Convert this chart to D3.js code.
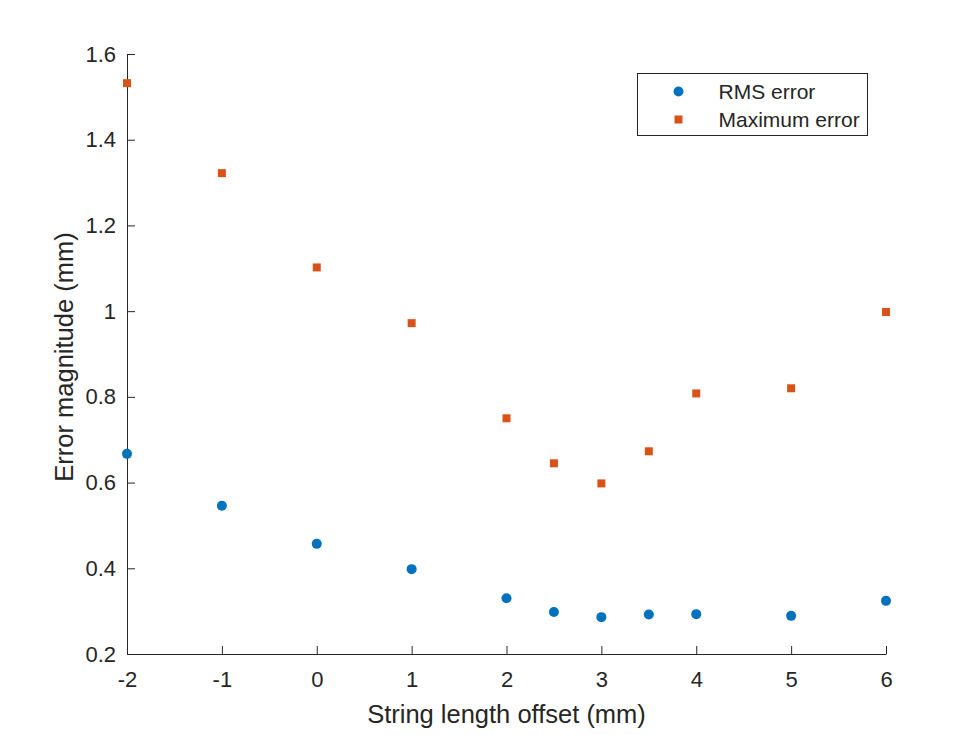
<!DOCTYPE html>
<html>
<head>
<meta charset="utf-8">
<script src="https://cdn.jsdelivr.net/npm/d3@7"></script>
<style>
  body { margin: 0; background: #fff; }
  text { font-family: "Liberation Sans", Arial, sans-serif; fill: #262626; }
</style>
</head>
<body>
<script>
var offsets = [-2, -1, 0, 1, 2, 2.5, 3, 3.5, 4, 5, 6];
var rmsError = [0.667, 0.546, 0.457, 0.398, 0.330, 0.298, 0.286, 0.292, 0.293, 0.289, 0.324];
var maxError = [1.532, 1.322, 1.102, 0.972, 0.750, 0.645, 0.598, 0.673, 0.808, 0.820, 0.998];
var xTicks = [-2, -1, 0, 1, 2, 3, 4, 5, 6];
var yTicks = [0.2, 0.4, 0.6, 0.8, 1, 1.2, 1.4, 1.6];

var width = 980,
    height = 735;

var margin = {left: 127, right: 94, top: 54, bottom: 81};

var svg = d3.select("body").append("svg")
    .attr("width", width)
    .attr("height", height);

var x = d3.scaleLinear()
    .domain([-2, 6])
    .range([margin.left, width - margin.right]);

var y = d3.scaleLinear()
    .domain([0.2, 1.6])
    .range([height - margin.bottom, margin.top]);

// axes, ticks pointing inward like matlab
svg.append("g")
    .attr("transform", "translate(0," + y(0.2) + ")")
    .call(d3.axisBottom(x).tickValues(xTicks).tickSizeInner(-8).tickSizeOuter(0)
      .tickPadding(17).tickFormat(function(d) { return String(d); }));

svg.append("g")
    .attr("transform", "translate(" + x(-2) + ",0)")
    .call(d3.axisLeft(y).tickValues(yTicks).tickSizeInner(-8).tickSizeOuter(0)
      .tickPadding(11).tickFormat(function(d) { return d === 1 ? "1" : d3.format(".1f")(d); }));

svg.selectAll(".domain, .tick line").attr("stroke", "#262626");
svg.selectAll(".tick text")
    .attr("font-size", 22)
    .attr("font-family", "Liberation Sans, Arial, sans-serif")
    .attr("fill", "#262626");

// axis titles
svg.append("text")
    .attr("x", (x(-2) + x(6)) / 2)
    .attr("y", 723)
    .attr("text-anchor", "middle")
    .attr("font-size", 25.5)
    .text("String length offset (mm)");

svg.append("text")
    .attr("transform", "translate(73,357) rotate(-90)")
    .attr("text-anchor", "middle")
    .attr("font-size", 25.5)
    .text("Error magnitude (mm)");

// RMS error
svg.selectAll("circle.rms")
    .data(offsets)
  .enter().append("circle")
    .attr("class", "rms")
    .attr("cx", function(d) { return x(d); })
    .attr("cy", function(d, i) { return y(rmsError[i]); })
    .attr("r", 5)
    .attr("fill", "#0072BD");

// Maximum error
svg.selectAll("rect.max")
    .data(offsets)
  .enter().append("rect")
    .attr("class", "max")
    .attr("x", function(d) { return x(d) - 4; })
    .attr("y", function(d, i) { return y(maxError[i]) - 4; })
    .attr("width", 8)
    .attr("height", 8)
    .attr("fill", "#D95319");

// legend
var legend = svg.append("g").attr("transform", "translate(637.5,73.5)");
legend.append("rect")
    .attr("width", 230)
    .attr("height", 62)
    .attr("fill", "#fff")
    .attr("stroke", "#262626");
legend.append("circle")
    .attr("cx", 41).attr("cy", 18).attr("r", 5)
    .attr("fill", "#0072BD");
legend.append("rect")
    .attr("x", 37).attr("y", 42).attr("width", 8).attr("height", 8)
    .attr("fill", "#D95319");
legend.append("text")
    .attr("x", 81).attr("y", 25)
    .attr("font-size", 21)
    .attr("fill", "#000")
    .text("RMS error");
legend.append("text")
    .attr("x", 81).attr("y", 53)
    .attr("font-size", 21)
    .attr("fill", "#000")
    .text("Maximum error");
</script>
</body>
</html>
